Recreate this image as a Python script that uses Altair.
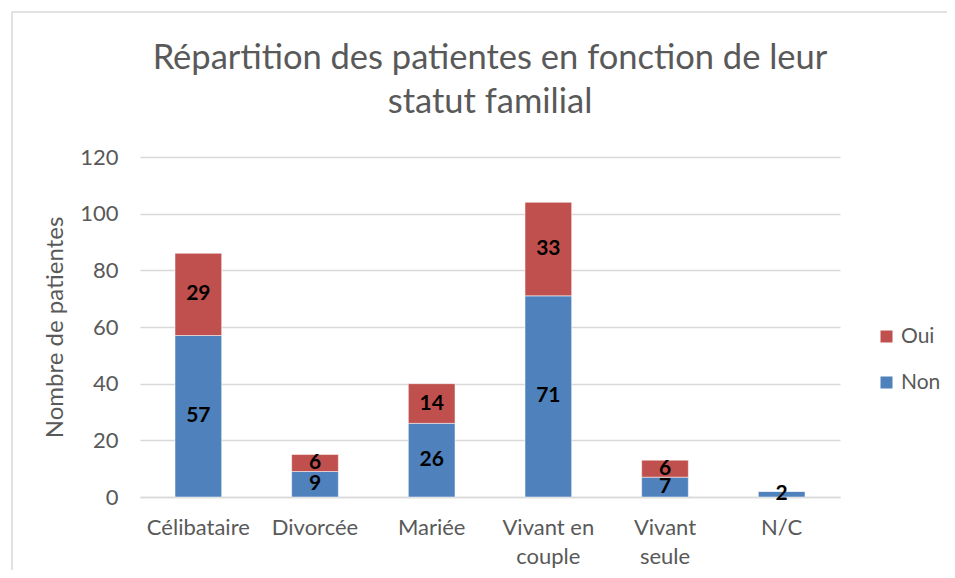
import altair as alt
import pandas as pd

categories = ["Célibataire", "Divorcée", "Mariée", "Vivant en\ncouple", "Vivant\nseule", "N/C"]
non_values = [57, 9, 26, 71, 7, 2]
oui_values = [29, 6, 14, 33, 6, 0]
series = ["Oui", "Non"]
colors = ["#C0504D", "#4F81BD"]
y_ticks = [0, 20, 40, 60, 80, 100, 120]

rows = []
for c, n, o in zip(categories, non_values, oui_values):
    rows.append({"cat": c, "serie": "Non", "val": n, "ord": 0})
    rows.append({"cat": c, "serie": "Oui", "val": o, "ord": 1})
df = pd.DataFrame(rows)

FONT = "Lato"
GRAY = "#595959"

base = alt.Chart(df).transform_stack(
    stack="val", groupby=["cat"], as_=["v0", "v1"], sort=[alt.SortField("ord")]
).transform_calculate(mid="(datum.v0 + datum.v1) / 2")

x_enc = alt.X(
    "cat:N", sort=categories, title=None,
    scale=alt.Scale(paddingInner=0.6, paddingOuter=0.3),
    axis=alt.Axis(labelExpr="split(datum.label, '\\n')", labelAngle=0, labelFont=FONT,
                  labelFontSize=22, labelColor=GRAY, labelPadding=20, labelLineHeight=29,
                  ticks=False, domainColor="#d9d9d9", domainWidth=1.5, grid=False),
)

bars = base.mark_bar(stroke="white", strokeWidth=0.5).encode(
    x=x_enc,
    y=alt.Y("v0:Q", title="Nombre de patientes",
            scale=alt.Scale(domain=[0, 120], nice=False),
            axis=alt.Axis(values=y_ticks, grid=True, gridColor="#d9d9d9", gridWidth=1.5,
                          domain=False, ticks=False, labelFont=FONT, labelFontSize=22,
                          labelColor=GRAY, labelPadding=22, titleFont=FONT,
                          titleFontSize=24, titleColor=GRAY, titleFontWeight="normal",
                          titlePadding=12)),
    y2="v1:Q",
    color=alt.Color("serie:N", scale=alt.Scale(domain=series, range=colors),
                    legend=alt.Legend(title=None, orient="none", legendX=736, legendY=169,
                                      symbolType="square", symbolSize=144,
                                      symbolStrokeWidth=0, labelFont=FONT,
                                      labelFontSize=21, labelColor=GRAY, rowPadding=24,
                                      labelOffset=4)),
)

labels = base.transform_filter("datum.val > 0").mark_text(
    font=FONT, fontSize=21, fontWeight="bold", color="black"
).encode(
    x=alt.X("cat:N", sort=categories),
    y=alt.Y("mid:Q"),
    text=alt.Text("val:Q"),
)

border = alt.Chart(pd.DataFrame({"k": [0]})).mark_rect(
    fill=None, stroke="#d9d9d9", strokeWidth=1.5, clip=False
).encode(x=alt.value(-128), x2=alt.value(830), y=alt.value(-145), y2=alt.value(440))

chart = alt.layer(border, bars, labels).properties(
    width=700, height=340,
    title=alt.Title(["Répartition des patientes en fonction de leur", "statut familial"],
                    font=FONT, fontSize=34.5, fontWeight="normal", color=GRAY,
                    lineHeight=44, anchor="middle", offset=-109),
    autosize=alt.AutoSizeParams(type="none"),
    padding={"left": 132, "top": 149, "right": 107, "bottom": 73},
).configure_view(stroke=None)

chart.save("out.html", embed_options={"renderer": "svg", "actions": False})
